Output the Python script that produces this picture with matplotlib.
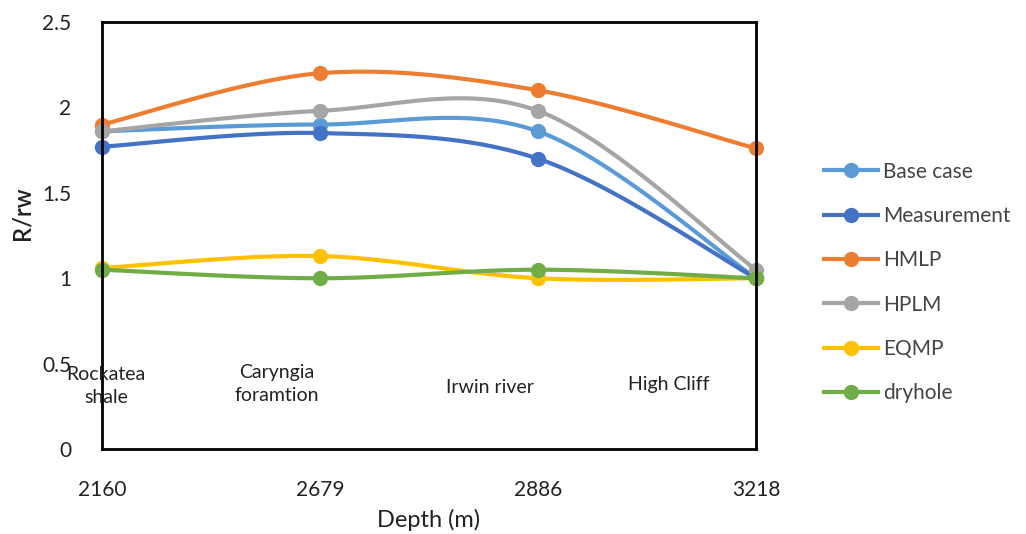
import numpy as np
import matplotlib.pyplot as plt

plt.rcParams['font.family'] = ['Lato', 'DejaVu Sans']

# depth categories (m) and formation names
depths = ['2160', '2679', '2886', '3218']
formations = ['Rockatea\nshale', 'Caryngia\nforamtion', 'Irwin river', 'High Cliff']

# R/rw for each case
base_case = [1.86, 1.90, 1.86, 1.00]
measurement = [1.77, 1.85, 1.70, 1.00]
hmlp = [1.90, 2.20, 2.10, 1.76]
hplm = [1.86, 1.98, 1.98, 1.05]
eqmp = [1.06, 1.13, 1.00, 1.00]
dryhole = [1.05, 1.00, 1.05, 1.00]

series = [
    ('Base case', base_case, '#5B9BD5'),
    ('Measurement', measurement, '#4472C4'),
    ('HMLP', hmlp, '#ED7D31'),
    ('HPLM', hplm, '#A5A5A5'),
    ('EQMP', eqmp, '#FFC000'),
    ('dryhole', dryhole, '#70AD47'),
]


def smooth(x, y, n=40):
    # Catmull-Rom style curve through the points (spreadsheet "smoothed line")
    x = np.asarray(x, float)
    y = np.asarray(y, float)
    px = np.concatenate([[x[0]], x, [x[-1]]])
    py = np.concatenate([[y[0]], y, [y[-1]]])
    xs, ys = [], []
    t = np.linspace(0, 1, n)
    for i in range(1, len(px) - 2):
        p0 = np.array([px[i], py[i]])
        p3 = np.array([px[i + 1], py[i + 1]])
        c1 = p0 + (np.array([px[i + 1], py[i + 1]]) - np.array([px[i - 1], py[i - 1]])) / 6
        c2 = p3 - (np.array([px[i + 2], py[i + 2]]) - np.array([px[i], py[i]])) / 6
        b = ((1 - t) ** 3)[:, None] * p0 + (3 * (1 - t) ** 2 * t)[:, None] * c1 \
            + (3 * (1 - t) * t ** 2)[:, None] * c2 + (t ** 3)[:, None] * p3
        xs.append(b[:, 0])
        ys.append(b[:, 1])
    return np.concatenate(xs), np.concatenate(ys)


fig = plt.figure(figsize=(10.26, 5.34), dpi=100)
ax = fig.add_axes([0.0994, 0.159, 0.6374, 0.7998])

pos = np.arange(len(depths))
for name, vals, col in series:
    sx, sy = smooth(pos, vals)
    ax.plot(sx, sy, color=col, lw=3, solid_capstyle='round', clip_on=False)
    ax.plot(pos, vals, 'o', color=col, ms=10, clip_on=False)
    # legend handle
    ax.plot([], [], '-o', color=col, lw=3, ms=10, label=name)

ax.set_xlim(0, 3)
ax.set_ylim(0, 2.5)
ax.set_xticks(pos)
ax.set_xticklabels(depths)
ax.set_yticks([0, 0.5, 1, 1.5, 2, 2.5])
ax.set_yticklabels(['0', '0.5', '1', '1.5', '2', '2.5'])
ax.tick_params(length=0, labelsize=15, colors='#222222')
ax.tick_params(axis='x', pad=22)
ax.tick_params(axis='y', pad=22)
for s in ax.spines.values():
    s.set_linewidth(2)
    s.set_color('black')

ax.set_xlabel('Depth (m)', fontsize=17, color='#222222')
ax.set_ylabel('R/rw', fontsize=17, fontweight='semibold', color='#222222')
ax.xaxis.set_label_coords(0.5, -0.14)
ax.yaxis.set_label_coords(-0.105, 0.553)

# formation names along the bottom of the plot
form_x = [0.02, 0.8, 1.78, 2.6]
form_y = [0.37, 0.38, 0.36, 0.38]
for fx, fy, txt in zip(form_x, form_y, formations):
    ax.text(fx, fy, txt, ha='center', va='center', fontsize=14,
            color='#222222', linespacing=1.4, clip_on=False)

leg = ax.legend(loc='center left', bbox_to_anchor=(1.075, 0.39), frameon=False,
                fontsize=15, labelspacing=1.17, handlelength=2.6,
                handletextpad=0.25, labelcolor='#444444')

fig.savefig('out.png', dpi=100)
